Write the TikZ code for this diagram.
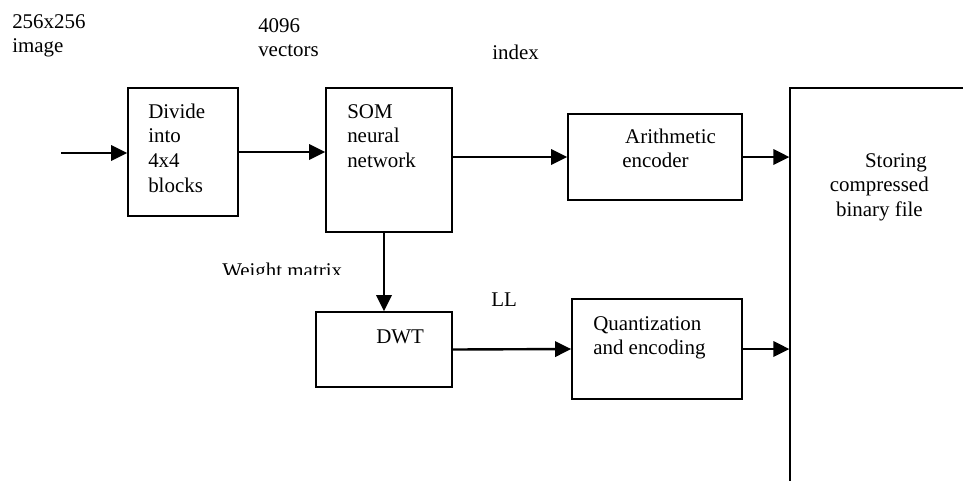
\documentclass[tikz,border=0pt]{standalone}
\usepackage{fontspec}
\setmainfont{Liberation Serif}
\usetikzlibrary{arrows.meta}
\newcommand{\mlines}[2]{\begin{tabular}[t]{@{}#1@{}}#2\end{tabular}}
\begin{document}
\begin{tikzpicture}[x=0.75pt,y=-0.75pt,
  font=\fontsize{15.7}{18.5}\selectfont,
  blk/.style={draw,line width=1.3pt,rectangle,inner sep=0pt},
  txt/.style={inner sep=0pt,anchor=base west},
  arr/.style={line width=1.8pt,-{Triangle[length=12pt,width=11.5pt]}}]
\useasboundingbox (0,0) rectangle (963,480);
% boxes
\node[blk,minimum width=82.5pt,minimum height=96pt] (div) at (183,152) {};
\node[blk,minimum width=94.5pt,minimum height=108pt] (som) at (389,160) {};
\node[blk,minimum width=130.5pt,minimum height=64.5pt] (arith) at (655,157) {};
\node[blk,minimum width=127.5pt,minimum height=75pt] (quant) at (657,349) {};
\node[blk,minimum width=102pt,minimum height=56.25pt] (dwt) at (384,349.5) {};
\node[draw,line width=1pt,rectangle,inner sep=0pt,minimum width=157.5pt,minimum height=324pt] (store) at (895,304) {};
% texts
\node[txt] (t1) at (12,28) {\mlines{l}{256x256\\image}};
\node[txt] (t2) at (258,32) {\mlines{l}{4096\\vectors}};
\node[txt] (t3) at (492,59) {index};
\node[txt] (t4) at (148,118) {\mlines{l}{Divide\\into\\4x4\\blocks}};
\node[txt] (t5) at (347,118) {\mlines{l}{SOM\\neural\\network}};
\node[txt] (t6) at (622,143) {\mlines{l}{\hspace*{2.2pt}Arithmetic\\encoder}};
\node[txt,anchor=base east] (t7) at (929,167) {\mlines{r}{Storing\hspace*{1.5pt}\\compressed\\binary file\hspace*{4.5pt}}};
\node[txt] (t8) at (593,330) {\mlines{l}{Quantization\\and encoding}};
\node[txt] (t9) at (376,343) {DWT};
\node[txt] (t10) at (491,306) {LL};
\begin{scope}
\clip (200,250) rectangle (380,274);
\node[txt] (t11) at (222,277) {Weight matrix};
\end{scope}
% connectors
\coordinate (in) at (61,153);
\draw[arr] (in) -- (div.west |- in);
\draw[arr] (div.east) -- (som.west |- div.east);
\draw[arr] (arith.west -| som.east) -- (arith.west);
\draw[arr] (som.south -| dwt.north) -- (dwt.north);
\draw[arr] (dwt.east) -- (quant.west);
\draw[arr] (arith.east) -- (store.west |- arith.east);
\draw[arr] (quant.east) -- (store.west |- quant.east);
\end{tikzpicture}
\end{document}
